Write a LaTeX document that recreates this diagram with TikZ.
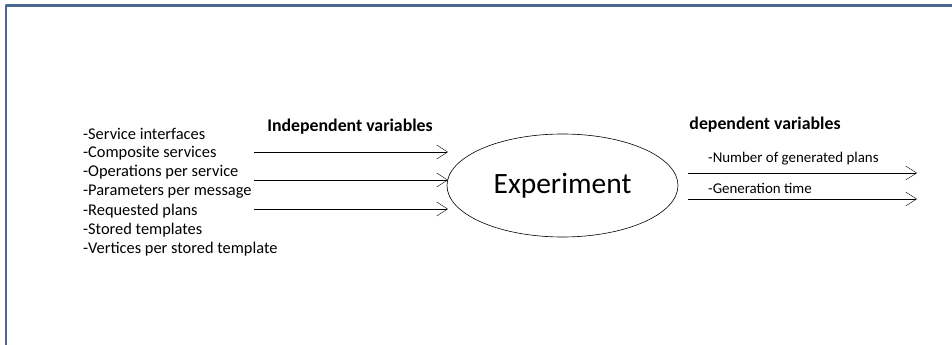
\documentclass[tikz,border=0pt]{standalone}
\usepackage{fontspec}
\setmainfont{Carlito}
\usetikzlibrary{shapes.geometric,arrows.meta}
\definecolor{framecol}{RGB}{74,104,143}
\tikzset{
  varline/.style={anchor=west,inner sep=0pt,font=\fontsize{16.4bp}{19bp}\selectfont},
  outline/.style={anchor=west,inner sep=0pt,font=\fontsize{14.9bp}{17bp}\selectfont},
  varhead/.style={inner sep=0pt,font=\fontsize{17.8bp}{20bp}\selectfont\bfseries},
}
\begin{document}
\begin{tikzpicture}[>={Straight Barb[length=11bp,width=14bp]},line join=bevel,]
%%
\useasboundingbox (0bp,0bp) rectangle (952bp,345bp);
\draw [framecol,line width=2.5bp] (952bp,339.5bp) -- (6bp,339.5bp) -- (6bp,0bp);
%
\node (node_0) at (83bp,211bp) [varline] {-Service interfaces};
  \node (node_1) at (83bp,191.8bp) [varline] {-Composite services};
  \node (node_2) at (83bp,172.7bp) [varline] {-Operations per service};
  \node (node_3) at (83bp,153.5bp) [varline] {-Parameters per message};
  \node (node_4) at (83bp,134.3bp) [varline] {-Requested plans};
  \node (node_5) at (83bp,115.2bp) [varline] {-Stored templates};
  \node (node_6) at (83bp,96bp) [varline] {-Vertices per stored template};
  \node (node_7) at (350bp,218bp) [varhead] {Independent variables};
%
\node (node_8) at (562.5bp,159.5bp) [draw,ellipse,semithick,minimum width=231bp,minimum height=103bp,inner sep=0pt,font=\fontsize{29.5bp}{33bp}\selectfont] {Experiment};
%
\node (node_9) at (765bp,220bp) [varhead] {dependent variables};
  \node (node_10) at (708bp,186bp) [outline] {-Number of generated plans};
  \node (node_11) at (708bp,157bp) [outline] {-Generation time};
%
\coordinate (in_0) at (254bp,193bp);
  \coordinate (in_1) at (254bp,165bp);
  \coordinate (in_2) at (254bp,136bp);
  \coordinate (end_0) at (448bp,193bp);
  \coordinate (end_1) at (448bp,165bp);
  \coordinate (end_2) at (448bp,136bp);
  \draw [black,->] (in_0) -- (end_0);
  \draw [black,->] (in_1) -- (end_1);
  \draw [black,->] (in_2) -- (end_2);
%
\coordinate (out_0) at (688bp,172bp);
  \coordinate (out_1) at (688bp,146bp);
  \coordinate (tip_0) at (917bp,172bp);
  \coordinate (tip_1) at (917bp,146bp);
  \draw [black,->] (out_0) -- (tip_0);
  \draw [black,->] (out_1) -- (tip_1);
%
\end{tikzpicture}
\end{document}
